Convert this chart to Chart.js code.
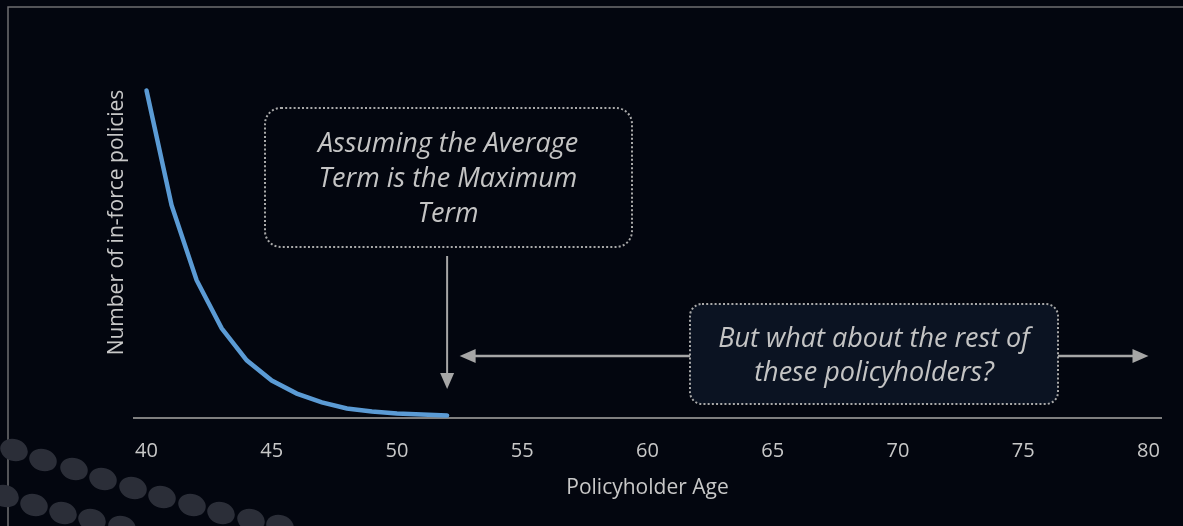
<!DOCTYPE html>
<html>
<head>
<meta charset="utf-8">
<script src="https://cdn.jsdelivr.net/npm/chart.js@4.4.1/dist/chart.umd.min.js"></script>
<style>
  html, body { margin: 0; padding: 0; background: #03060f; }
  #wrap { width: 1183px; height: 526px; position: relative; }
</style>
</head>
<body>
<div id="wrap"><canvas id="myChart" width="1183" height="526"></canvas></div>
<script>
// ages on the x axis (40..80)
const ages = [];
for (let a = 40; a <= 80; a++) ages.push(a);

// in-force policies (only up to age 52)
const inForce = [1005, 653, 423, 275, 177, 115, 75, 48, 29, 20, 14, 11, 8];

const boxText1 = ["Assuming the Average", "Term is the Maximum", "Term"];
const boxText2 = ["But what about the rest of", "these policyholders?"];

const textColor = "#c4c4c4";
const arrowColor = "#a6a6a6";

// dotted rounded box
function dottedBox(ctx, x, y, w, h, r, fill) {
  ctx.save();
  ctx.beginPath();
  ctx.roundRect(x, y, w, h, r);
  if (fill) {
    ctx.fillStyle = fill;
    ctx.fill();
  }
  ctx.setLineDash([2, 2.2]);
  ctx.lineWidth = 2;
  ctx.strokeStyle = "#a9a9a9";
  ctx.stroke();
  ctx.restore();
}

function arrowHead(ctx, x, y, dir) {
  // dir: 'down', 'left', 'right'
  ctx.beginPath();
  if (dir == "down") {
    ctx.moveTo(x, y);
    ctx.lineTo(x - 7, y - 16);
    ctx.lineTo(x + 7, y - 16);
  } else if (dir == "left") {
    ctx.moveTo(x, y);
    ctx.lineTo(x + 16, y - 7);
    ctx.lineTo(x + 16, y + 7);
  } else {
    ctx.moveTo(x, y);
    ctx.lineTo(x - 16, y - 7);
    ctx.lineTo(x - 16, y + 7);
  }
  ctx.closePath();
  ctx.fill();
}

//background + decorative dots in the corner
const backgroundPlugin = {
  id: "bg",
  beforeDraw(chart) {
    const ctx = chart.ctx;
    ctx.save();
    ctx.fillStyle = "#03060f";
    ctx.fillRect(0, 0, chart.width, chart.height);

    // frame, top and left only
    ctx.strokeStyle = "#6f6f72";
    ctx.lineWidth = 1.5;
    ctx.beginPath();
    ctx.moveTo(chart.width, 7);
    ctx.lineTo(8, 7);
    ctx.lineTo(8, chart.height);
    ctx.stroke();

    const row1 = [[14,450],[43,460],[74,469],[103,479],[133,488],[162,497],[192,505],[221,513],[251,520],[280,526]];
    const row2 = [[5,496],[34,505],[63,513],[92,520],[122,527]];
    ctx.fillStyle = "#2b2e38";
    row1.concat(row2).forEach(([x, y]) => {
      ctx.beginPath();
      ctx.ellipse(x, y, 14, 11, 0.3, 0, Math.PI * 2);
      ctx.fill();
    });
    ctx.restore();
  },
};

// call-out boxes and arrows
const annotationPlugin = {
  id: "notes",
  afterDatasetsDraw(chart) {
    const ctx = chart.ctx;
    const xs = chart.scales.x;
    const endX = xs.getPixelForValue(inForce.length - 1); // age 52
    const lastX = xs.getPixelForValue(ages.length - 1); // age 80
    const arrowY = 356;

    ctx.save();
    // box 1
    dottedBox(ctx, 265, 108, 367, 139, 16, null);
    ctx.fillStyle = textColor;
    ctx.font = "italic 27px 'Open Sans'";
    ctx.textAlign = "center";
    ctx.textBaseline = "middle";
    boxText1.forEach((t, i) => ctx.fillText(t, 448, 144 + i * 35));

    // down arrow at age 52
    ctx.strokeStyle = arrowColor;
    ctx.fillStyle = arrowColor;
    ctx.lineWidth = 2;
    ctx.beginPath();
    ctx.moveTo(endX, 256);
    ctx.lineTo(endX, 376);
    ctx.stroke();
    arrowHead(ctx, endX, 389, "down");

    // horizontal arrows
    const leftTip = endX + xs.width / ages.length / 2;
    ctx.beginPath();
    ctx.moveTo(leftTip + 12, arrowY);
    ctx.lineTo(690, arrowY);
    ctx.moveTo(1058, arrowY);
    ctx.lineTo(lastX - 12, arrowY);
    ctx.lineWidth = 2.5;
    ctx.stroke();
    arrowHead(ctx, leftTip, arrowY, "left");
    arrowHead(ctx, lastX, arrowY, "right");

    // box 2
    dottedBox(ctx, 690, 304, 368, 100, 12, "#0b1322");
    ctx.fillStyle = textColor;
    ctx.font = "italic 27px 'Open Sans'";
    boxText2.forEach((t, i) => ctx.fillText(t, 874, 339 + i * 34));
    ctx.restore();
  },
};

const ctx = document.getElementById("myChart").getContext("2d");

const chart = new Chart(ctx, {
  type: "line",
  data: {
    labels: ages,
    datasets: [
      {
        label: "In-force policies",
        data: inForce,
        borderColor: "#5b9bd5",
        borderWidth: 4.5,
        pointRadius: 0,
        tension: 0,
        fill: false,
        clip: false,
        borderCapStyle: "round",
      },
    ],
  },
  options: {
    responsive: false,
    animation: false,
    events: [],
    layout: {
      padding: { left: 0, right: 22, top: 27, bottom: 0 },
    },
    plugins: {
      legend: { display: false },
      tooltip: { enabled: false },
    },
    scales: {
      x: {
        type: "category",
        offset: true,
        grid: { display: false, drawTicks: false },
        border: { display: true, color: "#7f7f7f", width: 2 },
        ticks: {
          color: "#c8c8c8",
          font: { family: "'Open Sans'", size: 20 },
          padding: 21,
          maxRotation: 0,
          autoSkip: false,
          callback: function (val, i) {
            return ages[i] % 5 == 0 ? ages[i] : "";
          },
        },
        title: {
          display: true,
          text: "Policyholder Age",
          color: "#c8c8c8",
          font: { family: "'Open Sans'", size: 21 },
          padding: { top: 0, bottom: 25 },
        },
        afterFit(scale) {
          scale.height = 108;
        },
      },
      y: {
        min: 0,
        max: 1200,
        grid: { display: false, drawTicks: false },
        border: { display: false },
        ticks: { display: false },
        title: {
          display: true,
          text: "Number of in-force policies",
          color: "#c8c8c8",
          font: { family: "'Open Sans'", size: 21 },
          padding: { top: 104, bottom: 0 },
        },
        afterFit(scale) {
          scale.width = 134;
        },
      },
    },
  },
  plugins: [backgroundPlugin, annotationPlugin],
});
</script>
</body>
</html>
